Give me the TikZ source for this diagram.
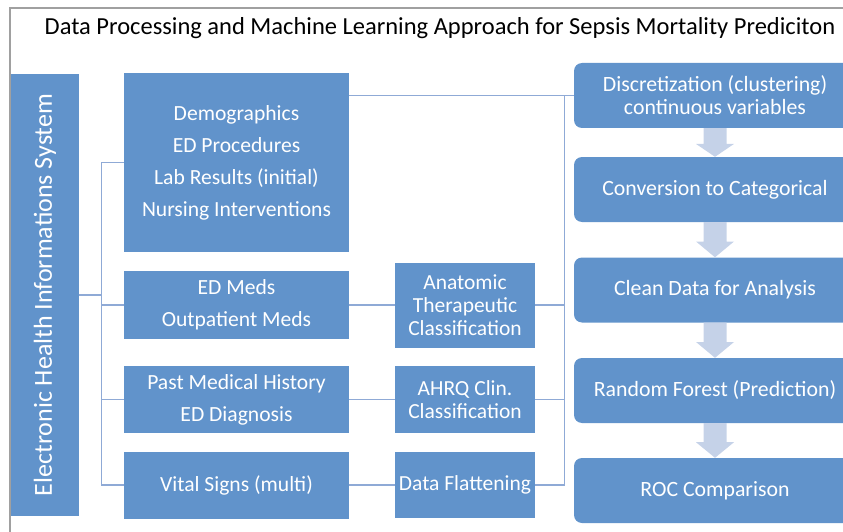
\documentclass[tikz,border=0pt]{standalone}
\usepackage{fontspec}
\setmainfont{Carlito}
\usetikzlibrary{calc}
\definecolor{boxblue}{RGB}{97,147,203}
\definecolor{flowarrow}{RGB}{197,210,232}
\definecolor{linkblue}{RGB}{143,170,214}
\definecolor{framegray}{RGB}{160,160,160}

\begin{document}
\begin{tikzpicture}[x=1pt, y=-1pt,
    inbox/.style={fill=boxblue, text=white, align=center, inner sep=0pt,
      font=\fontsize{21.6}{32}\selectfont},
    groupbox/.style={inbox, minimum width=140,
      font=\fontsize{21.5}{23}\selectfont},
    stepbox/.style={inbox, rounded corners=8pt, minimum width=282,
      minimum height=65, font=\fontsize{21.8}{23}\selectfont},
    link/.style={draw=linkblue, line width=1.2pt}]
    \clip (0, 0) rectangle (843, 532);
    \draw[framegray, line width=1.5pt] (10, 532) -- (10, 8) -- (843, 8);
    \node at (440, 28.5) (title)
      {\fontsize{24.5}{28}\selectfont Data Processing and Machine Learning Approach for Sepsis Mortality Prediciton};
    % source system
    \node[inbox, minimum width=68, minimum height=442] at (45, 295) (ehr)
      {\fontsize{26}{30}\selectfont\rotatebox{90}{Electronic Health Informations System}};
    % raw data groups
    \node[inbox, minimum width=225, minimum height=179] at (236.5, 162.5) (demo)
      {Demographics\\ED Procedures\\Lab Results (initial)\\Nursing Interventions};
    \node[inbox, minimum width=225, minimum height=68] at (236.5, 305) (meds)
      {ED Meds\\Outpatient Meds};
    \node[inbox, minimum width=225, minimum height=67] at (236.5, 399.5) (hist)
      {Past Medical History\\ED Diagnosis};
    \node[inbox, minimum width=225, minimum height=67] at (236.5, 485) (vital)
      {Vital Signs (multi)};
    % grouping steps
    \node[groupbox, minimum height=85] at (465, 305) (atc)
      {Anatomic\\Therapeutic\\Classification};
    \node[groupbox, minimum height=67] at (465, 399.5) (ahrq)
      {AHRQ Clin.\\Classification};
    \node[groupbox, minimum height=66] at (465, 485) (flat)
      {Data Flattening};
    % pipeline
    \node[stepbox] at (715, 95.5) (disc)
      {Discretization (clustering)\\continuous variables};
    \node[stepbox] at (715, 189.5) (conv)
      {Conversion to Categorical};
    \node[stepbox] at (715, 290) (clean)
      {Clean Data for Analysis};
    \node[stepbox] at (715, 390.5) (forest)
      {Random Forest (Prediction)};
    \node[stepbox] at (715, 490.5) (roc)
      {ROC Comparison};
    \foreach \a/\b in {disc/conv, conv/clean, clean/forest, forest/roc}
      \fill[flowarrow] ($(\a.south) + (-11.5, 0)$) -- ($(\a.south) + (11.5, 0)$)
        -- ($(\a.south)!.55!(\b.north) + (11.5, 0)$)
        -- ($(\a.south)!.55!(\b.north) + (19, 0)$) -- (\b.north)
        -- ($(\a.south)!.55!(\b.north) + (-19, 0)$)
        -- ($(\a.south)!.55!(\b.north) + (-11.5, 0)$) -- cycle;
    % connectors
    \path[link]
      (ehr.east) edge ++(23, 0)
      (meds.east) edge (atc.west)
      (hist.east) edge (ahrq.west)
      (vital.east) edge (flat.west)
      (disc.west -| demo.east) edge (disc.west);
    \foreach \n in {demo, meds, hist, vital}
      \draw[link] (\n.west) -- ++(-22, 0) |- (ehr.east);
    \foreach \n in {atc, ahrq, flat}
      \draw[link] (\n.east) -- ++(29, 0) |- (disc.west);
  \end{tikzpicture}
\end{document}
